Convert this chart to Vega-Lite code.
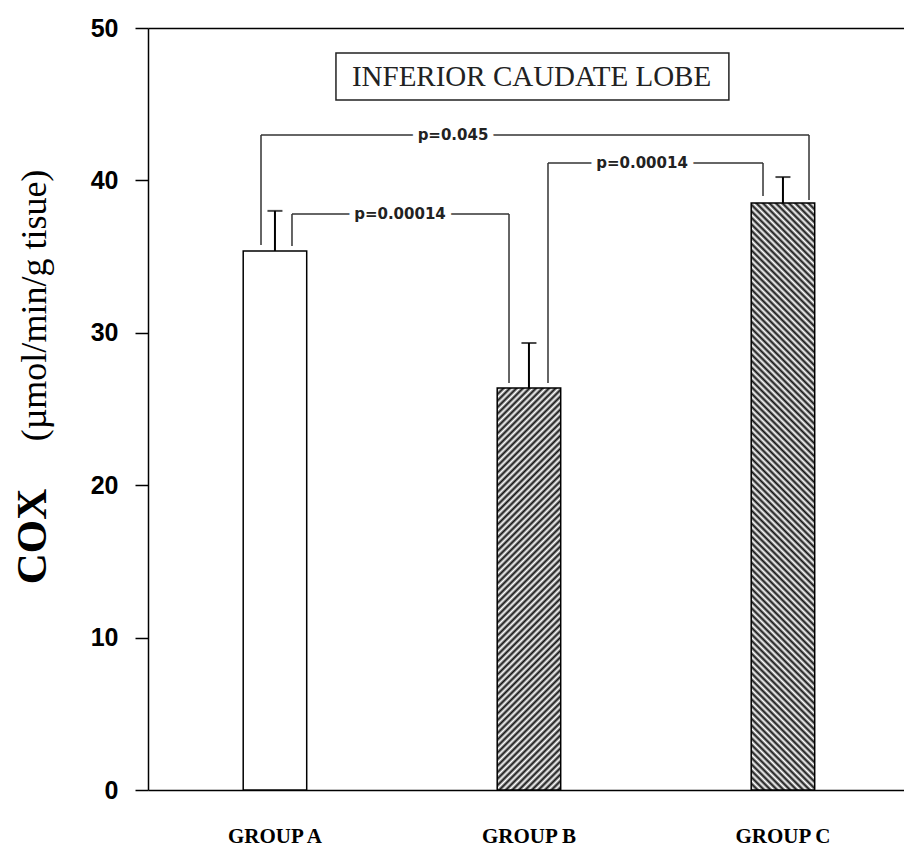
{
  "$schema": "https://vega.github.io/schema/vega-lite/v6.json",
  "width": 756,
  "height": 762,
  "autosize": "none",
  "padding": {"left": 148, "top": 28, "right": 0, "bottom": 59},
  "background": "white",
  "config": {"view": {"stroke": null}, "font": "Liberation Sans"},
  "resolve": {"scale": {"x": "independent", "y": "independent"}, "axis": {"x": "independent", "y": "independent"}},
  "layer": [
    {
      "data": {"values": [
        {"group": "GROUP A", "mean": 35.37, "upper": 38.0},
        {"group": "GROUP B", "mean": 26.38, "upper": 29.33},
        {"group": "GROUP C", "mean": 38.52, "upper": 40.22}
      ]},
      "encoding": {
        "x": {"field": "group", "type": "nominal", "sort": null,
          "scale": {"paddingInner": 0.75, "paddingOuter": 0.3632, "align": 0.516},
          "axis": {"orient": "bottom", "title": null, "ticks": false, "tickSize": 0, "domain": true, "domainColor": "black", "domainWidth": 1.5,
            "labelFont": "Liberation Serif", "labelFontWeight": "bold", "labelFontSize": 21, "labelColor": "black", "labelPadding": 35, "labelAngle": 0, "labelBaseline": "top"}},
        "y": {"field": "mean", "type": "quantitative", "scale": {"domain": [0, 50], "nice": false},
          "axis": {"orient": "left", "values": [0, 10, 20, 30, 40, 50], "grid": false, "tickSize": 13, "tickWidth": 1.5, "tickColor": "black",
            "domain": true, "domainColor": "black", "domainWidth": 1.5,
            "labelFont": "Liberation Sans", "labelFontWeight": "bold", "labelFontSize": 25, "labelColor": "black", "labelPadding": 17,
            "title": "(µmol/min/g tisue)", "titleFont": "Liberation Serif", "titleFontWeight": "normal", "titleFontSize": 36, "titleColor": "black",
            "titleAngle": 270, "titleX": -103, "titleY": 277, "titleAlign": "center", "titleBaseline": "alphabetic"}}
      },
      "layer": [
        {
          "mark": {"type": "bar", "stroke": "black", "strokeWidth": 1.5},
          "encoding": {
            "fill": {
              "condition": [
                {"test": "datum.group === 'GROUP B'", "value": {"gradient": "linear", "x1": 0, "y1": 0, "x2": 0.1785, "y2": 1.1298, "stops": [
{"offset":0,"color":"#111"},{"offset":0.007,"color":"#fff"},{"offset":0.014,"color":"#111"},{"offset":0.021,"color":"#fff"},{"offset":0.028,"color":"#111"},{"offset":0.035,"color":"#fff"},{"offset":0.042,"color":"#111"},{"offset":0.049,"color":"#fff"},{"offset":0.056,"color":"#111"},{"offset":0.063,"color":"#fff"},{"offset":0.07,"color":"#111"},{"offset":0.077,"color":"#fff"},{"offset":0.084,"color":"#111"},{"offset":0.091,"color":"#fff"},{"offset":0.098,"color":"#111"},{"offset":0.105,"color":"#fff"},{"offset":0.112,"color":"#111"},{"offset":0.119,"color":"#fff"},{"offset":0.126,"color":"#111"},{"offset":0.133,"color":"#fff"},{"offset":0.14,"color":"#111"},{"offset":0.147,"color":"#fff"},{"offset":0.154,"color":"#111"},{"offset":0.161,"color":"#fff"},{"offset":0.168,"color":"#111"},{"offset":0.175,"color":"#fff"},{"offset":0.182,"color":"#111"},{"offset":0.189,"color":"#fff"},{"offset":0.196,"color":"#111"},{"offset":0.203,"color":"#fff"},{"offset":0.21,"color":"#111"},{"offset":0.217,"color":"#fff"},{"offset":0.224,"color":"#111"},{"offset":0.231,"color":"#fff"},{"offset":0.238,"color":"#111"},{"offset":0.245,"color":"#fff"},{"offset":0.252,"color":"#111"},{"offset":0.259,"color":"#fff"},{"offset":0.266,"color":"#111"},{"offset":0.273,"color":"#fff"},{"offset":0.28,"color":"#111"},{"offset":0.287,"color":"#fff"},{"offset":0.294,"color":"#111"},{"offset":0.301,"color":"#fff"},{"offset":0.308,"color":"#111"},{"offset":0.315,"color":"#fff"},{"offset":0.322,"color":"#111"},{"offset":0.329,"color":"#fff"},{"offset":0.336,"color":"#111"},{"offset":0.343,"color":"#fff"},{"offset":0.35,"color":"#111"},{"offset":0.357,"color":"#fff"},{"offset":0.364,"color":"#111"},{"offset":0.371,"color":"#fff"},{"offset":0.378,"color":"#111"},{"offset":0.385,"color":"#fff"},{"offset":0.392,"color":"#111"},{"offset":0.399,"color":"#fff"},{"offset":0.406,"color":"#111"},{"offset":0.413,"color":"#fff"},{"offset":0.42,"color":"#111"},{"offset":0.427,"color":"#fff"},{"offset":0.434,"color":"#111"},{"offset":0.441,"color":"#fff"},{"offset":0.448,"color":"#111"},{"offset":0.455,"color":"#fff"},{"offset":0.462,"color":"#111"},{"offset":0.469,"color":"#fff"},{"offset":0.476,"color":"#111"},{"offset":0.483,"color":"#fff"},{"offset":0.49,"color":"#111"},{"offset":0.497,"color":"#fff"},{"offset":0.504,"color":"#111"},{"offset":0.511,"color":"#fff"},{"offset":0.518,"color":"#111"},{"offset":0.525,"color":"#fff"},{"offset":0.532,"color":"#111"},{"offset":0.539,"color":"#fff"},{"offset":0.546,"color":"#111"},{"offset":0.553,"color":"#fff"},{"offset":0.56,"color":"#111"},{"offset":0.567,"color":"#fff"},{"offset":0.574,"color":"#111"},{"offset":0.581,"color":"#fff"},{"offset":0.588,"color":"#111"},{"offset":0.595,"color":"#fff"},{"offset":0.602,"color":"#111"},{"offset":0.609,"color":"#fff"},{"offset":0.616,"color":"#111"},{"offset":0.623,"color":"#fff"},{"offset":0.63,"color":"#111"},{"offset":0.637,"color":"#fff"},{"offset":0.644,"color":"#111"},{"offset":0.651,"color":"#fff"},{"offset":0.658,"color":"#111"},{"offset":0.665,"color":"#fff"},{"offset":0.672,"color":"#111"},{"offset":0.679,"color":"#fff"},{"offset":0.686,"color":"#111"},{"offset":0.693,"color":"#fff"},{"offset":0.7,"color":"#111"},{"offset":0.707,"color":"#fff"},{"offset":0.714,"color":"#111"},{"offset":0.721,"color":"#fff"},{"offset":0.728,"color":"#111"},{"offset":0.735,"color":"#fff"},{"offset":0.742,"color":"#111"},{"offset":0.749,"color":"#fff"},{"offset":0.756,"color":"#111"},{"offset":0.763,"color":"#fff"},{"offset":0.77,"color":"#111"},{"offset":0.777,"color":"#fff"},{"offset":0.784,"color":"#111"},{"offset":0.791,"color":"#fff"},{"offset":0.798,"color":"#111"},{"offset":0.805,"color":"#fff"},{"offset":0.812,"color":"#111"},{"offset":0.819,"color":"#fff"},{"offset":0.826,"color":"#111"},{"offset":0.833,"color":"#fff"},{"offset":0.84,"color":"#111"},{"offset":0.847,"color":"#fff"},{"offset":0.854,"color":"#111"},{"offset":0.861,"color":"#fff"},{"offset":0.868,"color":"#111"},{"offset":0.875,"color":"#fff"},{"offset":0.882,"color":"#111"},{"offset":0.889,"color":"#fff"},{"offset":0.896,"color":"#111"},{"offset":0.903,"color":"#fff"},{"offset":0.91,"color":"#111"},{"offset":0.917,"color":"#fff"},{"offset":0.924,"color":"#111"},{"offset":0.931,"color":"#fff"},{"offset":0.938,"color":"#111"},{"offset":0.945,"color":"#fff"},{"offset":0.952,"color":"#111"},{"offset":0.959,"color":"#fff"},{"offset":0.966,"color":"#111"},{"offset":0.973,"color":"#fff"},{"offset":0.98,"color":"#111"},{"offset":0.987,"color":"#fff"},{"offset":0.994,"color":"#111"},{"offset":1,"color":"#fff"}
                ]}},
                {"test": "datum.group === 'GROUP C'", "value": {"gradient": "linear", "x1": 0, "y1": 1, "x2": 0.1185, "y2": -0.0954, "stops": [
{"offset":0,"color":"#111"},{"offset":0.005,"color":"#fff"},{"offset":0.01,"color":"#111"},{"offset":0.015,"color":"#fff"},{"offset":0.02,"color":"#111"},{"offset":0.025,"color":"#fff"},{"offset":0.03,"color":"#111"},{"offset":0.035,"color":"#fff"},{"offset":0.04,"color":"#111"},{"offset":0.045,"color":"#fff"},{"offset":0.05,"color":"#111"},{"offset":0.055,"color":"#fff"},{"offset":0.06,"color":"#111"},{"offset":0.065,"color":"#fff"},{"offset":0.07,"color":"#111"},{"offset":0.075,"color":"#fff"},{"offset":0.08,"color":"#111"},{"offset":0.085,"color":"#fff"},{"offset":0.09,"color":"#111"},{"offset":0.095,"color":"#fff"},{"offset":0.1,"color":"#111"},{"offset":0.105,"color":"#fff"},{"offset":0.11,"color":"#111"},{"offset":0.115,"color":"#fff"},{"offset":0.12,"color":"#111"},{"offset":0.125,"color":"#fff"},{"offset":0.13,"color":"#111"},{"offset":0.135,"color":"#fff"},{"offset":0.14,"color":"#111"},{"offset":0.145,"color":"#fff"},{"offset":0.15,"color":"#111"},{"offset":0.155,"color":"#fff"},{"offset":0.16,"color":"#111"},{"offset":0.165,"color":"#fff"},{"offset":0.17,"color":"#111"},{"offset":0.175,"color":"#fff"},{"offset":0.18,"color":"#111"},{"offset":0.185,"color":"#fff"},{"offset":0.19,"color":"#111"},{"offset":0.195,"color":"#fff"},{"offset":0.2,"color":"#111"},{"offset":0.205,"color":"#fff"},{"offset":0.21,"color":"#111"},{"offset":0.215,"color":"#fff"},{"offset":0.22,"color":"#111"},{"offset":0.225,"color":"#fff"},{"offset":0.23,"color":"#111"},{"offset":0.235,"color":"#fff"},{"offset":0.24,"color":"#111"},{"offset":0.245,"color":"#fff"},{"offset":0.25,"color":"#111"},{"offset":0.255,"color":"#fff"},{"offset":0.26,"color":"#111"},{"offset":0.265,"color":"#fff"},{"offset":0.27,"color":"#111"},{"offset":0.275,"color":"#fff"},{"offset":0.28,"color":"#111"},{"offset":0.285,"color":"#fff"},{"offset":0.29,"color":"#111"},{"offset":0.295,"color":"#fff"},{"offset":0.3,"color":"#111"},{"offset":0.305,"color":"#fff"},{"offset":0.31,"color":"#111"},{"offset":0.315,"color":"#fff"},{"offset":0.32,"color":"#111"},{"offset":0.325,"color":"#fff"},{"offset":0.33,"color":"#111"},{"offset":0.335,"color":"#fff"},{"offset":0.34,"color":"#111"},{"offset":0.345,"color":"#fff"},{"offset":0.35,"color":"#111"},{"offset":0.355,"color":"#fff"},{"offset":0.36,"color":"#111"},{"offset":0.365,"color":"#fff"},{"offset":0.37,"color":"#111"},{"offset":0.375,"color":"#fff"},{"offset":0.38,"color":"#111"},{"offset":0.385,"color":"#fff"},{"offset":0.39,"color":"#111"},{"offset":0.395,"color":"#fff"},{"offset":0.4,"color":"#111"},{"offset":0.405,"color":"#fff"},{"offset":0.41,"color":"#111"},{"offset":0.415,"color":"#fff"},{"offset":0.42,"color":"#111"},{"offset":0.425,"color":"#fff"},{"offset":0.43,"color":"#111"},{"offset":0.435,"color":"#fff"},{"offset":0.44,"color":"#111"},{"offset":0.445,"color":"#fff"},{"offset":0.45,"color":"#111"},{"offset":0.455,"color":"#fff"},{"offset":0.46,"color":"#111"},{"offset":0.465,"color":"#fff"},{"offset":0.47,"color":"#111"},{"offset":0.475,"color":"#fff"},{"offset":0.48,"color":"#111"},{"offset":0.485,"color":"#fff"},{"offset":0.49,"color":"#111"},{"offset":0.495,"color":"#fff"},{"offset":0.5,"color":"#111"},{"offset":0.505,"color":"#fff"},{"offset":0.51,"color":"#111"},{"offset":0.515,"color":"#fff"},{"offset":0.52,"color":"#111"},{"offset":0.525,"color":"#fff"},{"offset":0.53,"color":"#111"},{"offset":0.535,"color":"#fff"},{"offset":0.54,"color":"#111"},{"offset":0.545,"color":"#fff"},{"offset":0.55,"color":"#111"},{"offset":0.555,"color":"#fff"},{"offset":0.56,"color":"#111"},{"offset":0.565,"color":"#fff"},{"offset":0.57,"color":"#111"},{"offset":0.575,"color":"#fff"},{"offset":0.58,"color":"#111"},{"offset":0.585,"color":"#fff"},{"offset":0.59,"color":"#111"},{"offset":0.595,"color":"#fff"},{"offset":0.6,"color":"#111"},{"offset":0.605,"color":"#fff"},{"offset":0.61,"color":"#111"},{"offset":0.615,"color":"#fff"},{"offset":0.62,"color":"#111"},{"offset":0.625,"color":"#fff"},{"offset":0.63,"color":"#111"},{"offset":0.635,"color":"#fff"},{"offset":0.64,"color":"#111"},{"offset":0.645,"color":"#fff"},{"offset":0.65,"color":"#111"},{"offset":0.655,"color":"#fff"},{"offset":0.66,"color":"#111"},{"offset":0.665,"color":"#fff"},{"offset":0.67,"color":"#111"},{"offset":0.675,"color":"#fff"},{"offset":0.68,"color":"#111"},{"offset":0.685,"color":"#fff"},{"offset":0.69,"color":"#111"},{"offset":0.695,"color":"#fff"},{"offset":0.7,"color":"#111"},{"offset":0.705,"color":"#fff"},{"offset":0.71,"color":"#111"},{"offset":0.715,"color":"#fff"},{"offset":0.72,"color":"#111"},{"offset":0.725,"color":"#fff"},{"offset":0.73,"color":"#111"},{"offset":0.735,"color":"#fff"},{"offset":0.74,"color":"#111"},{"offset":0.745,"color":"#fff"},{"offset":0.75,"color":"#111"},{"offset":0.755,"color":"#fff"},{"offset":0.76,"color":"#111"},{"offset":0.765,"color":"#fff"},{"offset":0.77,"color":"#111"},{"offset":0.775,"color":"#fff"},{"offset":0.78,"color":"#111"},{"offset":0.785,"color":"#fff"},{"offset":0.79,"color":"#111"},{"offset":0.795,"color":"#fff"},{"offset":0.8,"color":"#111"},{"offset":0.805,"color":"#fff"},{"offset":0.81,"color":"#111"},{"offset":0.815,"color":"#fff"},{"offset":0.82,"color":"#111"},{"offset":0.825,"color":"#fff"},{"offset":0.83,"color":"#111"},{"offset":0.835,"color":"#fff"},{"offset":0.84,"color":"#111"},{"offset":0.845,"color":"#fff"},{"offset":0.85,"color":"#111"},{"offset":0.855,"color":"#fff"},{"offset":0.86,"color":"#111"},{"offset":0.865,"color":"#fff"},{"offset":0.87,"color":"#111"},{"offset":0.875,"color":"#fff"},{"offset":0.88,"color":"#111"},{"offset":0.885,"color":"#fff"},{"offset":0.89,"color":"#111"},{"offset":0.895,"color":"#fff"},{"offset":0.9,"color":"#111"},{"offset":0.905,"color":"#fff"},{"offset":0.91,"color":"#111"},{"offset":0.915,"color":"#fff"},{"offset":0.92,"color":"#111"},{"offset":0.925,"color":"#fff"},{"offset":0.93,"color":"#111"},{"offset":0.935,"color":"#fff"},{"offset":0.94,"color":"#111"},{"offset":0.945,"color":"#fff"},{"offset":0.95,"color":"#111"},{"offset":0.955,"color":"#fff"},{"offset":0.96,"color":"#111"},{"offset":0.965,"color":"#fff"},{"offset":0.97,"color":"#111"},{"offset":0.975,"color":"#fff"},{"offset":0.98,"color":"#111"},{"offset":0.985,"color":"#fff"},{"offset":0.99,"color":"#111"},{"offset":0.995,"color":"#fff"},{"offset":1,"color":"#111"}
                ]}}
              ],
              "value": "white"
            }
          }
        },
        {
          "mark": {"type": "rule", "color": "black", "strokeWidth": 2},
          "encoding": {
            "y2": {"field": "upper"}
          }
        },
        {
          "mark": {"type": "tick", "orient": "horizontal", "size": 15, "thickness": 2, "color": "black"},
          "encoding": {
            "y": {"field": "upper", "type": "quantitative", "scale": {"domain": [0, 50], "nice": false},
              "axis": {"orient": "left", "values": [0, 10, 20, 30, 40, 50], "grid": false, "tickSize": 13, "tickWidth": 1.5, "tickColor": "black",
                "domain": true, "domainColor": "black", "domainWidth": 1.5,
                "labelFont": "Liberation Sans", "labelFontWeight": "bold", "labelFontSize": 25, "labelColor": "black", "labelPadding": 17,
                "title": "(µmol/min/g tisue)", "titleFont": "Liberation Serif", "titleFontWeight": "normal", "titleFontSize": 36, "titleColor": "black",
                "titleAngle": 270, "titleX": -103, "titleY": 277, "titleAlign": "center", "titleBaseline": "alphabetic"}}
          }
        }
      ]
    },
    {
      "data": {"values": [
        {"kind": "bracket", "pair": "A-C", "xL": 0.4449, "xR": 2.6024, "ytop": 42.98, "yL": 35.76, "yR": 38.71, "label": "p=0.045", "lx": 1.2008, "ly": 42.98},
        {"kind": "bracket", "pair": "A-B", "xL": 0.5669, "xR": 1.4213, "ytop": 37.8, "yL": 35.7, "yR": 26.7, "label": "p=0.00014", "lx": 0.9921, "ly": 37.8},
        {"kind": "bracket", "pair": "B-C", "xL": 1.5748, "xR": 2.4213, "ytop": 41.14, "yL": 26.7, "yR": 38.98, "label": "p=0.00014", "lx": 1.9449, "ly": 41.14},
        {"kind": "title", "xL": 0.74, "xR": 2.287, "yL": 45.28, "ytop": 48.36, "label": "INFERIOR CAUDATE LOBE", "lx": 1.51, "ly": 46.78}
      ]},
      "encoding": {
        "x": {"field": "xL", "type": "quantitative", "scale": {"domain": [0, 2.9764], "nice": false, "zero": false},
          "axis": {"orient": "top", "title": null, "labels": false, "ticks": false, "grid": false, "domain": true, "domainColor": "black", "domainWidth": 1.5}},
        "y": {"field": "ytop", "type": "quantitative", "scale": {"domain": [0, 50], "nice": false},
          "axis": {"orient": "left", "labels": false, "ticks": false, "grid": false, "domain": false,
            "title": "COX", "titleFont": "Liberation Serif", "titleFontWeight": "bold", "titleFontSize": 43, "titleColor": "black",
            "titleAngle": 270, "titleX": -103, "titleY": 508, "titleAlign": "center", "titleBaseline": "alphabetic"}}
      },
      "layer": [
        {
          "transform": [{"filter": "datum.kind === 'bracket'"}],
          "mark": {"type": "rule", "color": "#333", "strokeWidth": 1.5},
          "encoding": {"x2": {"field": "xR"}}
        },
        {
          "transform": [{"filter": "datum.kind === 'bracket'"}],
          "mark": {"type": "rule", "color": "#333", "strokeWidth": 1.5},
          "encoding": {"y2": {"field": "yL"}}
        },
        {
          "transform": [{"filter": "datum.kind === 'bracket'"}],
          "mark": {"type": "rule", "color": "#333", "strokeWidth": 1.5},
          "encoding": {
            "x": {"field": "xR", "type": "quantitative", "scale": {"domain": [0, 2.9764], "nice": false, "zero": false},
              "axis": {"orient": "top", "title": null, "labels": false, "ticks": false, "grid": false, "domain": true, "domainColor": "black", "domainWidth": 1.5}},
            "y2": {"field": "yR"}
          }
        },
        {
          "transform": [{"filter": "datum.kind === 'bracket'"}],
          "mark": {"type": "text", "font": "DejaVu Sans", "fontWeight": "bold", "fontSize": 15, "fill": "white", "stroke": "white", "strokeWidth": 12, "align": "center", "baseline": "middle"},
          "encoding": {
            "x": {"field": "lx", "type": "quantitative", "scale": {"domain": [0, 2.9764], "nice": false, "zero": false},
              "axis": {"orient": "top", "title": null, "labels": false, "ticks": false, "grid": false, "domain": true, "domainColor": "black", "domainWidth": 1.5}},
            "y": {"field": "ly", "type": "quantitative", "scale": {"domain": [0, 50], "nice": false},
              "axis": {"orient": "left", "labels": false, "ticks": false, "grid": false, "domain": false,
                "title": "COX", "titleFont": "Liberation Serif", "titleFontWeight": "bold", "titleFontSize": 43, "titleColor": "black",
                "titleAngle": 270, "titleX": -103, "titleY": 508, "titleAlign": "center", "titleBaseline": "alphabetic"}},
            "text": {"field": "label"}
          }
        },
        {
          "transform": [{"filter": "datum.kind === 'bracket'"}],
          "mark": {"type": "text", "font": "DejaVu Sans", "fontWeight": "bold", "fontSize": 15, "color": "#222", "align": "center", "baseline": "middle"},
          "encoding": {
            "x": {"field": "lx", "type": "quantitative", "scale": {"domain": [0, 2.9764], "nice": false, "zero": false},
              "axis": {"orient": "top", "title": null, "labels": false, "ticks": false, "grid": false, "domain": true, "domainColor": "black", "domainWidth": 1.5}},
            "y": {"field": "ly", "type": "quantitative", "scale": {"domain": [0, 50], "nice": false},
              "axis": {"orient": "left", "labels": false, "ticks": false, "grid": false, "domain": false,
                "title": "COX", "titleFont": "Liberation Serif", "titleFontWeight": "bold", "titleFontSize": 43, "titleColor": "black",
                "titleAngle": 270, "titleX": -103, "titleY": 508, "titleAlign": "center", "titleBaseline": "alphabetic"}},
            "text": {"field": "label"}
          }
        },
        {
          "transform": [{"filter": "datum.kind === 'title'"}],
          "mark": {"type": "rect", "fill": "white", "stroke": "#222", "strokeWidth": 1.5},
          "encoding": {"x2": {"field": "xR"}, "y2": {"field": "yL"}}
        },
        {
          "transform": [{"filter": "datum.kind === 'title'"}],
          "mark": {"type": "text", "font": "Liberation Serif", "fontSize": 29, "color": "#222", "align": "center", "baseline": "middle"},
          "encoding": {
            "x": {"field": "lx", "type": "quantitative", "scale": {"domain": [0, 2.9764], "nice": false, "zero": false},
              "axis": {"orient": "top", "title": null, "labels": false, "ticks": false, "grid": false, "domain": true, "domainColor": "black", "domainWidth": 1.5}},
            "y": {"field": "ly", "type": "quantitative", "scale": {"domain": [0, 50], "nice": false},
              "axis": {"orient": "left", "labels": false, "ticks": false, "grid": false, "domain": false,
                "title": "COX", "titleFont": "Liberation Serif", "titleFontWeight": "bold", "titleFontSize": 43, "titleColor": "black",
                "titleAngle": 270, "titleX": -103, "titleY": 508, "titleAlign": "center", "titleBaseline": "alphabetic"}},
            "text": {"field": "label"}
          }
        }
      ]
    }
  ]
}
